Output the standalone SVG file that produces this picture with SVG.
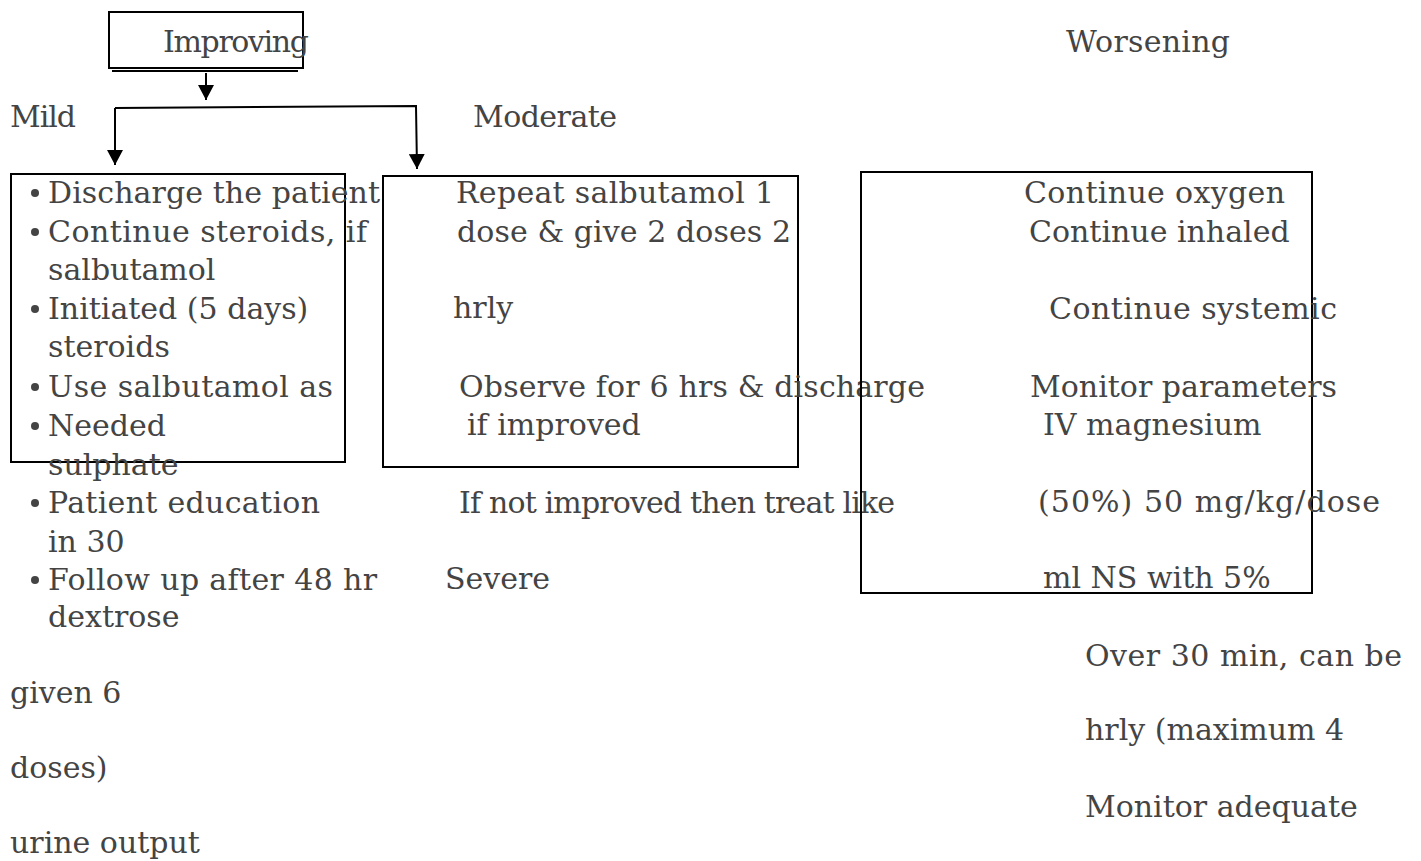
<svg xmlns="http://www.w3.org/2000/svg" width="1421" height="861" viewBox="0 0 1421 861">
<style>
text{font-family:"DejaVu Serif","Liberation Serif",serif;font-size:30px;fill:#444}
.box{fill:none;stroke:#000;stroke-width:2}
.con{fill:none;stroke:#000;stroke-width:2}
.bul{fill:#444}
</style>
<defs>
<marker id="arr" markerUnits="userSpaceOnUse" markerWidth="16" markerHeight="16" viewBox="0 0 16 16" refX="15" refY="8" orient="auto">
<path d="M0,0 L15,8 L0,16 Z" fill="#000"/>
</marker>
</defs>
<rect width="1421" height="861" fill="#fff"/>
<g id="improving">
<rect class="box" x="109" y="12" width="194" height="56"/>
<line class="box" x1="112" y1="71" x2="298" y2="71"/>
<text x="163" y="52" textLength="146">Improving</text>
</g>
<g id="worsening"><text x="1066" y="52" textLength="164">Worsening</text></g>
<g id="mild"><text x="10" y="127" textLength="66">Mild</text></g>
<g id="moderate"><text x="473" y="127" textLength="144">Moderate</text></g>
<g id="connectors">
<path class="con" d="M206,73 L206,100" marker-end="url(#arr)"/>
<path class="con" d="M115,108 L115,165" marker-end="url(#arr)"/>
<path class="con" d="M115,108 L416,106 L417,169" marker-end="url(#arr)"/>
</g>
<g id="box-mild">
<rect class="box" x="11" y="174" width="334" height="288"/>
<circle class="bul" cx="35" cy="193" r="4"/>
<circle class="bul" cx="35" cy="232" r="4"/>
<circle class="bul" cx="35" cy="309" r="4"/>
<circle class="bul" cx="35" cy="387" r="4"/>
<circle class="bul" cx="35" cy="426" r="4"/>
<circle class="bul" cx="35" cy="503" r="4"/>
<circle class="bul" cx="35" cy="580" r="4"/>
<text x="48" y="203" textLength="332">Discharge the patient</text>
<text x="48" y="242" textLength="319">Continue steroids, if</text>
<text x="48" y="280">salbutamol</text>
<text x="48" y="319">Initiated (5 days)</text>
<text x="48" y="357">steroids</text>
<text x="48" y="397" textLength="285">Use salbutamol as</text>
<text x="48" y="436">Needed</text>
<text x="48" y="475">sulphate</text>
<text x="48" y="513" textLength="272">Patient education</text>
<text x="48" y="552">in 30</text>
<text x="48" y="590" textLength="329">Follow up after 48 hr</text>
<text x="48" y="627">dextrose</text>
</g>
<g id="box-moderate">
<rect class="box" x="383" y="176" width="415" height="291"/>
<text x="456" y="203" textLength="318">Repeat salbutamol 1</text>
<text x="457" y="242" textLength="334">dose &amp; give 2 doses 2</text>
<text x="453" y="318">hrly</text>
<text x="459" y="397" textLength="466">Observe for 6 hrs &amp; discharge</text>
<text x="467" y="435">if improved</text>
</g>
<g id="moderate-followup">
<text x="459" y="513" textLength="436">If not improved then treat like</text>
<text x="445" y="589">Severe</text>
</g>
<g id="box-worsening">
<rect class="box" x="861" y="172" width="451" height="421"/>
<text x="1024" y="203" textLength="261">Continue oxygen</text>
<text x="1029" y="242">Continue inhaled</text>
<text x="1049" y="319" textLength="288">Continue systemic</text>
<text x="1030" y="397" textLength="307">Monitor parameters</text>
<text x="1043" y="435">IV magnesium</text>
<text x="1038" y="512" textLength="342">(50%) 50 mg/kg/dose</text>
<text x="1043" y="588">ml NS with 5%</text>
</g>
<g id="worsening-continued">
<text x="1085" y="666" textLength="317">Over 30 min, can be</text>
<text x="10" y="703">given 6</text>
<text x="1085" y="740">hrly (maximum 4</text>
<text x="10" y="778">doses)</text>
<text x="1085" y="817">Monitor adequate</text>
<text x="10" y="853">urine output</text>
</g>
</svg>
